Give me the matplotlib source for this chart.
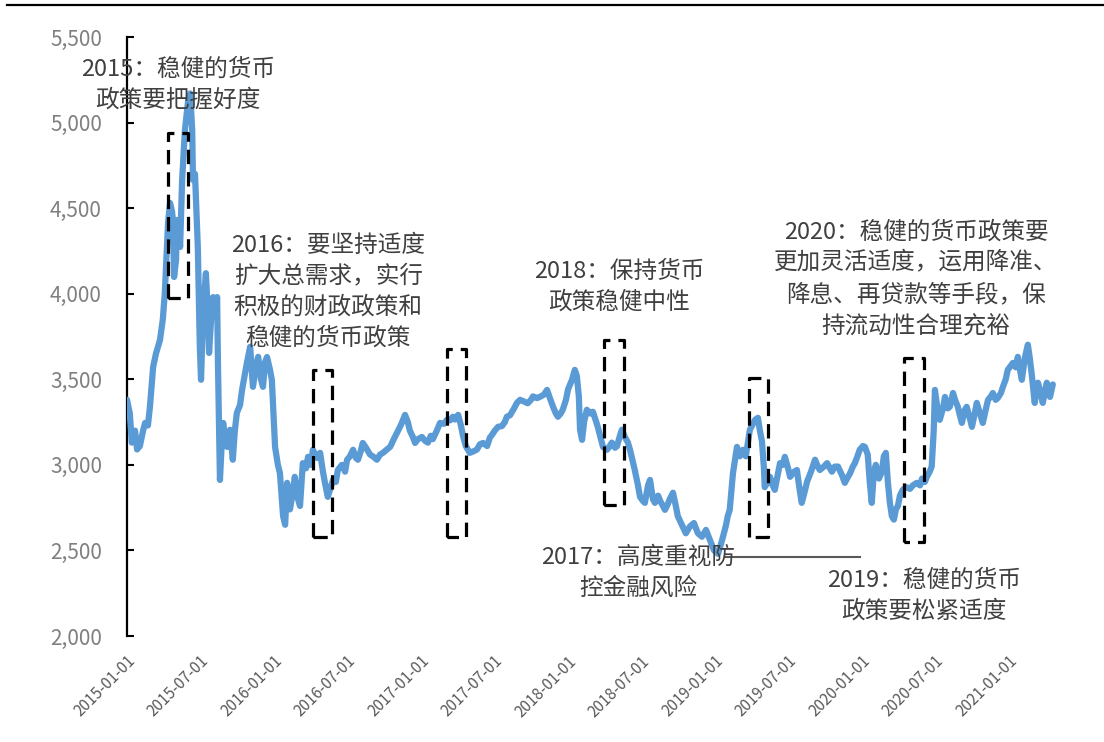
import matplotlib
matplotlib.use('Agg')
import matplotlib.pyplot as plt
import matplotlib.dates as mdates
from matplotlib.lines import Line2D
from matplotlib.ticker import FuncFormatter
import pandas as pd

plt.rcParams['font.family'] = ['Noto Sans CJK SC', 'DejaVu Sans']

# ---------------- data ----------------
base_date = '2015-01-01'
day_offsets = [
    0, 7, 12, 20, 25, 32, 40, 45, 52, 57, 65, 72, 82, 89, 94, 102, 107, 112, 114, 117,
    122, 124, 129, 132, 137, 144, 152, 157, 162, 164, 169, 176, 181, 184, 189, 196, 201, 204, 209, 214,
    219, 224, 226, 231, 236, 239, 244, 249, 256, 263, 268, 273, 281, 286, 293, 298, 306, 313, 321, 326,
    333, 338, 343, 348, 355, 360, 368, 375, 380, 388, 393, 398, 405, 413, 417, 425, 430, 437, 445, 450,
    457, 462, 472, 480, 487, 492, 499, 504, 512, 519, 524, 534, 542, 547, 554, 562, 569, 574, 581, 586,
    594, 604, 611, 621, 629, 636, 646, 654, 663, 671, 678, 683, 691, 698, 703, 711, 716, 723, 733, 741,
    748, 755, 760, 770, 778, 788, 795, 803, 810, 815, 823, 830, 835, 842, 852, 862, 870, 877, 885, 895,
    902, 907, 914, 922, 932, 939, 944, 952, 962, 969, 977, 987, 996, 1004, 1009, 1019, 1026, 1036, 1044, 1051,
    1059, 1066, 1071, 1078, 1083, 1091, 1096, 1106, 1113, 1118, 1123, 1126, 1131, 1136, 1143, 1151, 1158, 1165, 1170, 1178,
    1183, 1193, 1200, 1205, 1213, 1218, 1225, 1230, 1238, 1245, 1250, 1257, 1262, 1270, 1275, 1282, 1287, 1295, 1300, 1307,
    1312, 1320, 1325, 1332, 1337, 1344, 1349, 1357, 1364, 1369, 1379, 1389, 1399, 1409, 1419, 1429, 1439, 1449, 1459, 1469,
    1479, 1489, 1493, 1498, 1506, 1516, 1523, 1531, 1538, 1548, 1556, 1561, 1568, 1573, 1578, 1583, 1585, 1593, 1598, 1605,
    1610, 1618, 1623, 1630, 1635, 1643, 1648, 1658, 1665, 1672, 1677, 1685, 1690, 1700, 1710, 1717, 1722, 1732, 1740, 1747,
    1752, 1759, 1767, 1777, 1784, 1792, 1797, 1804, 1809, 1817, 1821, 1829, 1834, 1841, 1846, 1851, 1856, 1861, 1869, 1876,
    1881, 1886, 1891, 1896, 1901, 1906, 1911, 1916, 1921, 1928, 1936, 1946, 1953, 1963, 1971, 1976, 1983, 1988, 1995, 2000,
    2005, 2008, 2013, 2020, 2028, 2033, 2040, 2045, 2053, 2058, 2065, 2070, 2075, 2082, 2087, 2095, 2100, 2107, 2112, 2120,
    2127, 2135, 2140, 2147, 2152, 2159, 2164, 2172, 2177, 2184, 2189, 2197, 2202, 2209, 2214, 2219, 2224, 2232, 2239, 2244,
    2249, 2256, 2264, 2271, 2276, 2286, 2294, 2301,
]
index_values = [
    3380, 3300, 3130, 3200, 3090, 3110, 3200, 3245, 3230, 3340, 3573, 3650, 3730, 3850, 4005, 4414, 4530, 4480, 4430, 4098,
    4200, 4430, 4380, 4273, 4665, 4957, 5130, 5170, 4960, 4665, 4700, 4273, 3690, 3497, 3888, 4120, 3890, 3654, 3850, 3980,
    3900, 3980, 3600, 2912, 3150, 3245, 3150, 3105, 3205, 3030, 3200, 3304, 3350, 3438, 3530, 3596, 3690, 3456, 3580, 3631,
    3500, 3456, 3600, 3630, 3560, 3497, 3105, 3000, 2953, 2700, 2650, 2895, 2740, 2850, 2930, 2800, 2760, 3010, 2980, 3047,
    3000, 3088, 3040, 3070, 2960, 2895, 2813, 2850, 2912, 2900, 2970, 3000, 2960, 3030, 3050, 3088, 3040, 3030, 3080, 3128,
    3100, 3060, 3050, 3030, 3060, 3070, 3090, 3105, 3150, 3187, 3220, 3245, 3292, 3250, 3200, 3160, 3128, 3150, 3163, 3140,
    3130, 3170, 3150, 3200, 3245, 3240, 3263, 3260, 3281, 3265, 3292, 3230, 3170, 3110, 3070, 3080, 3090, 3120, 3128, 3110,
    3160, 3175, 3200, 3222, 3227, 3250, 3281, 3290, 3330, 3362, 3380, 3370, 3360, 3380, 3400, 3390, 3397, 3410, 3438, 3390,
    3339, 3300, 3281, 3300, 3322, 3380, 3440, 3497, 3555, 3520, 3400, 3205, 3146, 3250, 3322, 3300, 3310, 3260, 3222, 3150,
    3105, 3088, 3110, 3130, 3100, 3110, 3170, 3205, 3160, 3130, 3090, 3020, 2970, 2880, 2813, 2790, 2778, 2880, 2912, 2800,
    2778, 2820, 2790, 2760, 2737, 2770, 2800, 2837, 2760, 2700, 2650, 2600, 2640, 2660, 2600, 2580, 2620, 2560, 2500, 2480,
    2560, 2650, 2700, 2737, 2950, 3105, 3050, 3088, 3050, 3205, 3240, 3263, 3275, 3200, 3140, 2980, 2870, 2900, 2930, 2880,
    2854, 2950, 3010, 3000, 3047, 2980, 2930, 2960, 2970, 2850, 2778, 2850, 2900, 2960, 3030, 2990, 2970, 2990, 3010, 2980,
    2960, 2990, 2990, 2940, 2895, 2930, 2950, 2990, 3010, 3060, 3088, 3110, 3105, 3060, 2900, 2778, 2950, 3000, 2920, 2960,
    3050, 3070, 2900, 2780, 2700, 2680, 2740, 2760, 2820, 2854, 2870, 2860, 2880, 2895, 2880, 2920, 2900, 2930, 2960, 2990,
    3200, 3438, 3350, 3263, 3330, 3397, 3330, 3340, 3420, 3380, 3339, 3290, 3245, 3320, 3339, 3270, 3222, 3300, 3362, 3300,
    3245, 3330, 3380, 3400, 3420, 3380, 3390, 3420, 3456, 3500, 3555, 3580, 3596, 3570, 3631, 3560, 3497, 3631, 3702, 3620,
    3520, 3362, 3480, 3420, 3362, 3480, 3397, 3470,
]

# policy windows (dashed boxes)
box_start_days = [102, 462, 795, 1185, 1546, 1931]
box_end_days = [152, 509, 842, 1235, 1593, 1981]
box_top = [4939, 3555, 3678, 3730, 3508, 3625]
box_bottom = [3975, 2580, 2580, 2766, 2580, 2550]

ann_texts = [
    '2015：稳健的货币\n政策要把握好度',
    '2016：要坚持适度\n扩大总需求，实行\n积极的财政政策和\n稳健的货币政策',
    '2017：高度重视防\n控金融风险',
    '2018：保持货币\n政策稳健中性',
    '2019：稳健的货币\n政策要松紧适度',
    '2020：稳健的货币政策要\n更加灵活适度，运用降准、\n降息、再贷款等手段，保\n持流动性合理充裕',
]
ann_days = [127, 500, 1270, 1223, 1981, 1961]
ann_values = [5223, 4011, 2369, 4040, 2235, 4087]

leader_days = [1486, 1822]
leader_values = [2463, 2463]

y_ticks = [2000, 2500, 3000, 3500, 4000, 4500, 5000, 5500]

# ---------------- plot ----------------
base = pd.Timestamp(base_date)
dates = base + pd.to_timedelta(day_offsets, unit='D')

fig = plt.figure(figsize=(11.04, 7.42), dpi=100)
ax = fig.add_axes([127 / 1104, 1 - 636 / 742, (1085 - 127) / 1104, (636 - 37) / 742])

ax.plot(dates, index_values, color='#5B9BD5', lw=4.5, solid_joinstyle='round',
        solid_capstyle='round', zorder=3)

for s, e, t, b in zip(box_start_days, box_end_days, box_top, box_bottom):
    xs = [base + pd.Timedelta(days=s), base + pd.Timedelta(days=e)]
    ax.plot([xs[0], xs[0], xs[1], xs[1], xs[0]], [b, t, t, b, b],
            color='black', lw=2.3, ls=(0, (4.5, 2.5)), zorder=4)

for txt, d, v in zip(ann_texts, ann_days, ann_values):
    ax.text(base + pd.Timedelta(days=d), v, txt, ha='center', va='center',
            fontsize=17, color='#404040', linespacing=1.45, zorder=5)

ax.plot([base + pd.Timedelta(days=d) for d in leader_days], leader_values,
        color='#595959', lw=1.5, zorder=2)

ax.set_ylim(2000, 5500)
ax.set_xlim(base, base + pd.Timedelta(days=2381))
ax.set_yticks(y_ticks)
ax.yaxis.set_major_formatter(FuncFormatter(lambda v, p: f'{int(v):,}'))
ax.tick_params(axis='y', direction='in', length=5, width=1.5, labelsize=15,
               labelcolor='#808080', pad=18)

xt = pd.date_range('2015-01-01', '2021-01-01', freq='6MS')
ax.set_xticks(xt)
ax.xaxis.set_major_formatter(mdates.DateFormatter('%Y-%m-%d'))
ax.tick_params(axis='x', length=0, labelsize=11, labelcolor='#595959', pad=12)
plt.setp(ax.get_xticklabels(), rotation=45, ha='right', rotation_mode='anchor')

for sp in ['top', 'right', 'bottom']:
    ax.spines[sp].set_visible(False)
ax.spines['left'].set_linewidth(1.6)
ax.spines['left'].set_color('black')

fig.add_artist(Line2D([7 / 1104, 1.0], [1 - 5 / 742, 1 - 5 / 742],
                      transform=fig.transFigure, color='black', lw=1.6))

fig.savefig('out.png', dpi=100)
